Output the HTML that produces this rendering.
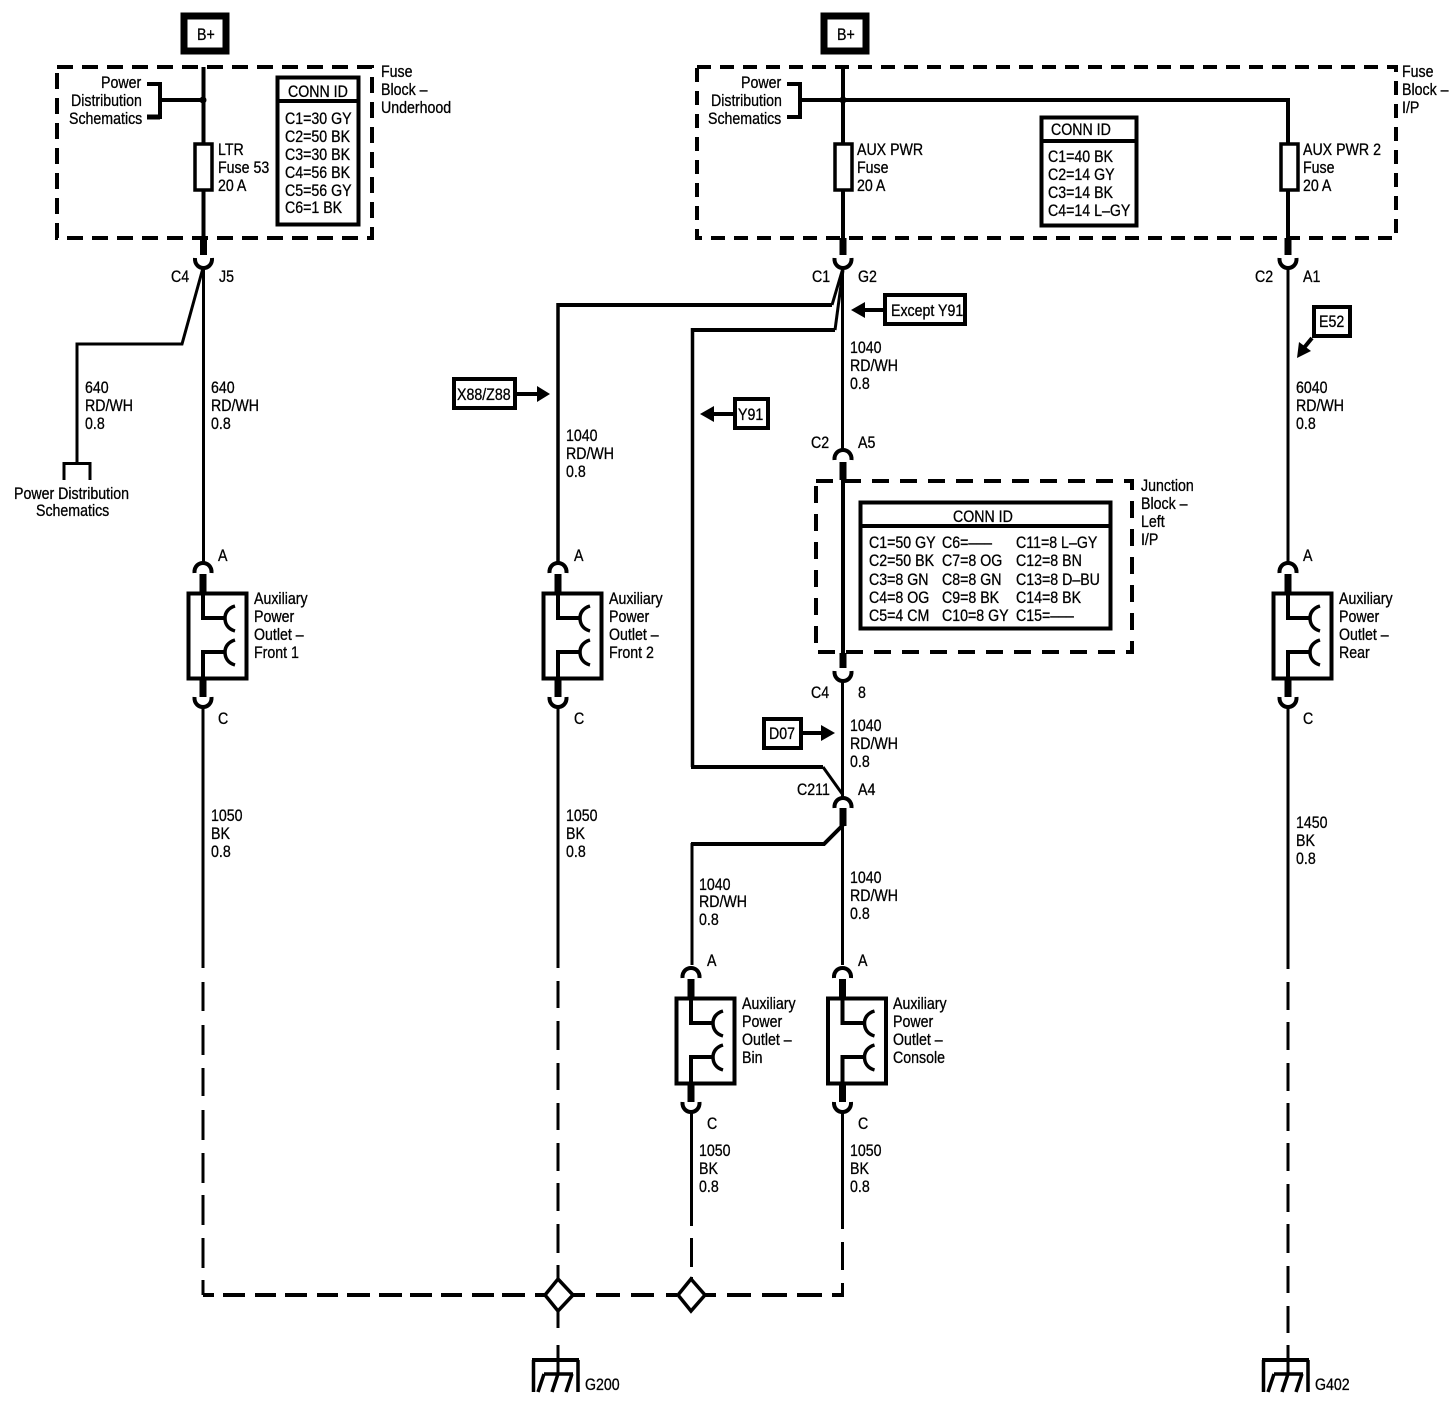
<!DOCTYPE html>
<html><head><meta charset="utf-8"><style>
html,body{margin:0;padding:0;background:#fff;width:1450px;height:1408px;overflow:hidden}
svg{display:block}
text{font-family:"Liberation Sans",sans-serif;font-size:16.5px;fill:#000;stroke:#000;stroke-width:.3;transform-box:fill-box;transform-origin:0 50%;transform:scaleX(.86)}
.w{fill:none;stroke:#000;stroke-width:3}
.m{fill:none;stroke:#000;stroke-width:3.5}
.t{fill:none;stroke:#000;stroke-width:4}
.k{fill:none;stroke:#000;stroke-width:7}
.b{fill:#fff;stroke:#000;stroke-width:4}
</style></head><body>
<svg width="1450" height="1408" viewBox="0 0 1450 1408" xmlns="http://www.w3.org/2000/svg">
<defs>
<g id="up"><path class="t" d="M-8.500,11 C-9,4 -4,1 0,1 C4,1 9,4 8.500,11"/></g>
<g id="dn"><path class="t" d="M-8.500,0 C-9,7 -4,10 0,10 C4,10 9,7 8.500,0"/></g>
<g id="outlet">
<use href="#up" x="203" y="562"/>
<path class="k" d="M203,574V592M203,679V697"/>
<rect class="b" x="188.500" y="593.500" width="58" height="85"/>
<path class="t" d="M203,592V618H226M203,680V652H226"/>
<path class="m" d="M235,606C228,608 225,613 225,618C225,624 228,629 235,631M235,640C228,642 225,647 225,652C225,658 228,663 235,665"/>
<use href="#dn" x="203" y="697"/>
</g>
<g id="gnd">
<path class="w" d="M0,0V29"/>
<path class="t" d="M-26,15H21"/>
<path class="m" d="M-24.500,15V47M20,15V47"/>
<path class="m" d="M-14,29H15M-14,29L-20,47M0,29L-6,47M14,29L8,47"/>
</g>
</defs>

<!-- B+ boxes -->
<rect x="184" y="16" width="42" height="35" fill="#fff" stroke="#000" stroke-width="7"/>
<rect x="824" y="16" width="42" height="35" fill="#fff" stroke="#000" stroke-width="7"/>
<text x="197" y="40">B+</text>
<text x="837" y="40">B+</text>

<!-- Dashed boxes -->
<rect x="57" y="67" width="315" height="171" fill="none" stroke="#000" stroke-width="4" stroke-dasharray="16 9"/>
<rect x="697" y="67" width="699" height="171" fill="none" stroke="#000" stroke-width="4" stroke-dasharray="14 9"/>
<rect x="816" y="481" width="316" height="171" fill="none" stroke="#000" stroke-width="4" stroke-dasharray="17 11"/>

<!-- Top left -->
<path class="t" d="M203.500,67V239M147,84H160V117H147M160,100H203"/>
<path d="M147,117H160" fill="none" stroke="#000" stroke-width="5"/>
<circle cx="203" cy="100" r="3.500"/>
<rect x="195" y="144" width="17" height="46" fill="#fff" stroke="#000" stroke-width="3.500"/>
<path class="k" d="M203.500,238V255"/>
<use href="#dn" x="203.500" y="258"/>
<path class="w" d="M203.500,268V563"/>
<path class="w" d="M203,268L182,344H77V463M64,480V463.500H90V480"/>

<!-- Conn ID left -->
<rect class="b" x="277.500" y="77.500" width="81" height="147"/>
<path class="t" d="M276,101H360"/>

<!-- Top right -->
<path class="t" d="M843,67V239M787,84H800V117H787M800,100H1288V239"/>
<circle cx="843" cy="100" r="3.500"/>
<rect x="835" y="144" width="17" height="46" fill="#fff" stroke="#000" stroke-width="3.500"/>
<rect x="1281" y="144" width="17" height="46" fill="#fff" stroke="#000" stroke-width="3.500"/>
<path class="k" d="M843,238V255M1288,238V255"/>
<use href="#dn" x="843" y="258"/>
<use href="#dn" x="1288" y="258"/>
<rect class="b" x="1041.500" y="117.500" width="95" height="108"/>
<path class="t" d="M1040,141H1138"/>

<!-- Wire 1288 -->
<path class="w" d="M1288,268V563"/>
<path class="w" d="M1288,708V969M1288,982V1010M1288,1022V1050M1288,1063V1091M1288,1103V1131M1288,1143V1171M1288,1184V1212M1288,1224V1253M1288,1266V1293M1288,1306V1333M1288,1346V1360"/>

<!-- Center wire -->
<path class="w" d="M842.500,268V450"/>
<path class="w" d="M843,268L832,305"/>
<path class="t" d="M832,305H558"/>
<path class="m" d="M558,303V562"/>
<path class="w" d="M843,270L835,330"/>
<path class="t" d="M835,330H691"/>
<path class="m" d="M692.500,328V767"/>
<path class="t" d="M691,767H823"/>
<path class="w" d="M823,767L843,795"/>
<path class="w" d="M842.500,682V800"/>
<path class="k" d="M843,808V826"/>
<path class="w" d="M842.500,826V965"/>
<path class="t" d="M843,825L824,844H691"/>
<path class="w" d="M692,843V965"/>
<use href="#up" x="843" y="449"/>
<use href="#dn" x="843" y="671"/>
<use href="#up" x="843" y="797"/>
<path class="k" d="M843,462V480M843,653V668"/>
<path class="t" d="M843,480V653"/>

<!-- Junction conn box -->
<rect class="b" x="860.500" y="502.500" width="250" height="126"/>
<path class="t" d="M859,526H1112"/>

<!-- Outlets -->
<use href="#outlet"/>
<use href="#outlet" x="355"/>
<use href="#outlet" x="1085"/>
<use href="#outlet" x="488" y="405"/>
<use href="#outlet" x="639.500" y="405"/>

<!-- Lower wires -->
<path class="w" d="M203,708V968M203,982V1011M203,1025V1055M203,1068V1096M203,1110V1140M203,1153V1183M203,1195V1225M203,1238V1268M203,1280V1295"/>
<path class="w" d="M558,708V968M558,981V1008M558,1021V1050M558,1063V1090M558,1103V1130M558,1143V1171M558,1183V1211M558,1224V1253M558,1265V1328M558,1345V1360"/>
<path class="w" d="M691.500,1113V1226M691.500,1238V1267M691.500,1277V1282"/>
<path class="w" d="M842.500,1113V1229M842.500,1242V1270M842.500,1283V1295"/>
<path class="t" d="M203,1295H214M223,1295H245M255,1295H276M285,1295H307M317,1295H338M347,1295H370M379,1295H402M410,1295H432M441,1295H462M472,1295H494M502,1295H525M535,1295H546M573,1295H585M596,1295H620M631,1295H654M666,1295H677M705,1295H716M727,1295H751M762,1295H787M797,1295H822M832,1295H844"/>
<polygon points="558,1279 573,1295 558,1311 545,1295" fill="#fff" stroke="#000" stroke-width="3.500"/>
<polygon points="691,1279 705,1295 691,1311 678,1295" fill="#fff" stroke="#000" stroke-width="3.500"/>

<!-- Ground -->
<use href="#gnd" x="558" y="1345"/>
<use href="#gnd" x="1288" y="1345"/>

<!-- Callouts -->
<rect class="b" x="885" y="295" width="80" height="29"/>
<path class="t" d="M885,310H860"/><polygon points="851,310 865,302 865,318"/>
<rect class="b" x="735" y="399" width="33" height="29"/>
<path class="t" d="M735,414H712"/><polygon points="700,414 714,406 714,422"/>
<rect class="b" x="454" y="379" width="61" height="29"/>
<path class="t" d="M517,394H540"/><polygon points="550,394 537,386 537,402"/>
<rect class="b" x="764" y="719" width="37" height="29"/>
<path class="t" d="M803,733H825"/><polygon points="835,733 821,725 821,741"/>
<rect class="b" x="1314" y="307" width="36" height="29"/>
<path class="t" d="M1312,338L1303,349"/><polygon points="1297,358 1299,342 1311,351"/>

<!-- Text: top left -->
<text x="101" y="88">Power</text><text x="71" y="106">Distribution</text><text x="69" y="124">Schematics</text>
<text x="381" y="77">Fuse</text><text x="381" y="95">Block –</text><text x="381" y="113">Underhood</text>
<text x="218" y="155">LTR</text><text x="218" y="173">Fuse 53</text><text x="218" y="191">20 A</text>
<text x="288" y="97">CONN ID</text>
<text x="285" y="124">C1=30 GY</text><text x="285" y="142">C2=50 BK</text><text x="285" y="160">C3=30 BK</text><text x="285" y="178">C4=56 BK</text><text x="285" y="196">C5=56 GY</text><text x="285" y="213">C6=1 BK</text>
<text x="171" y="282">C4</text><text x="219" y="282">J5</text>
<text x="85" y="393">640</text><text x="85" y="411">RD/WH</text><text x="85" y="429">0.8</text>
<text x="211" y="393">640</text><text x="211" y="411">RD/WH</text><text x="211" y="429">0.8</text>
<text x="14" y="499">Power Distribution</text><text x="36" y="516">Schematics</text>
<text x="218" y="561">A</text><text x="218" y="724">C</text>
<text x="254" y="604">Auxiliary</text><text x="254" y="622">Power</text><text x="254" y="640">Outlet –</text><text x="254" y="658">Front 1</text>
<text x="211" y="821">1050</text><text x="211" y="839">BK</text><text x="211" y="857">0.8</text>
<text x="585" y="1390">G200</text>

<!-- Front 2 -->
<text x="457" y="400">X88/Z88</text>
<text x="566" y="441">1040</text><text x="566" y="459">RD/WH</text><text x="566" y="477">0.8</text>
<text x="574" y="561">A</text><text x="574" y="724">C</text>
<text x="609" y="604">Auxiliary</text><text x="609" y="622">Power</text><text x="609" y="640">Outlet –</text><text x="609" y="658">Front 2</text>
<text x="566" y="821">1050</text><text x="566" y="839">BK</text><text x="566" y="857">0.8</text>

<!-- Top right text -->
<text x="741" y="88">Power</text><text x="711" y="106">Distribution</text><text x="708" y="124">Schematics</text>
<text x="857" y="155">AUX PWR</text><text x="857" y="173">Fuse</text><text x="857" y="191">20 A</text>
<text x="1051" y="135">CONN ID</text>
<text x="1048" y="162">C1=40 BK</text><text x="1048" y="180">C2=14 GY</text><text x="1048" y="198">C3=14 BK</text><text x="1048" y="216">C4=14 L–GY</text>
<text x="1303" y="155">AUX PWR 2</text><text x="1303" y="173">Fuse</text><text x="1303" y="191">20 A</text>
<text x="1402" y="77">Fuse</text><text x="1402" y="95">Block –</text><text x="1402" y="113">I/P</text>
<text x="812" y="282">C1</text><text x="858" y="282">G2</text>
<text x="1255" y="282">C2</text><text x="1303" y="282">A1</text>
<text x="891" y="316">Except Y91</text>
<text x="738" y="420">Y91</text>
<text x="1319" y="327">E52</text>

<!-- Center text -->
<text x="850" y="353">1040</text><text x="850" y="371">RD/WH</text><text x="850" y="389">0.8</text>
<text x="811" y="448">C2</text><text x="858" y="448">A5</text>
<text x="1141" y="491">Junction</text><text x="1141" y="509">Block –</text><text x="1141" y="527">Left</text><text x="1141" y="545">I/P</text>
<text x="953" y="522">CONN ID</text>
<text x="869" y="548">C1=50 GY</text><text x="942" y="548">C6=–––</text><text x="1016" y="548">C11=8 L–GY</text>
<text x="869" y="566">C2=50 BK</text><text x="942" y="566">C7=8 OG</text><text x="1016" y="566">C12=8 BN</text>
<text x="869" y="585">C3=8 GN</text><text x="942" y="585">C8=8 GN</text><text x="1016" y="585">C13=8 D–BU</text>
<text x="869" y="603">C4=8 OG</text><text x="942" y="603">C9=8 BK</text><text x="1016" y="603">C14=8 BK</text>
<text x="869" y="621">C5=4 CM</text><text x="942" y="621">C10=8 GY</text><text x="1016" y="621">C15=–––</text>
<text x="811" y="698">C4</text><text x="858" y="698">8</text>
<text x="769" y="739">D07</text>
<text x="850" y="731">1040</text><text x="850" y="749">RD/WH</text><text x="850" y="767">0.8</text>
<text x="797" y="795">C211</text><text x="858" y="795">A4</text>
<text x="699" y="890">1040</text><text x="699" y="907">RD/WH</text><text x="699" y="925">0.8</text>
<text x="850" y="883">1040</text><text x="850" y="901">RD/WH</text><text x="850" y="919">0.8</text>
<text x="707" y="966">A</text><text x="858" y="966">A</text>
<text x="742" y="1009">Auxiliary</text><text x="742" y="1027">Power</text><text x="742" y="1045">Outlet –</text><text x="742" y="1063">Bin</text>
<text x="893" y="1009">Auxiliary</text><text x="893" y="1027">Power</text><text x="893" y="1045">Outlet –</text><text x="893" y="1063">Console</text>
<text x="707" y="1129">C</text><text x="858" y="1129">C</text>
<text x="699" y="1156">1050</text><text x="699" y="1174">BK</text><text x="699" y="1192">0.8</text>
<text x="850" y="1156">1050</text><text x="850" y="1174">BK</text><text x="850" y="1192">0.8</text>

<!-- Right text -->
<text x="1296" y="393">6040</text><text x="1296" y="411">RD/WH</text><text x="1296" y="429">0.8</text>
<text x="1303" y="561">A</text><text x="1303" y="724">C</text>
<text x="1339" y="604">Auxiliary</text><text x="1339" y="622">Power</text><text x="1339" y="640">Outlet –</text><text x="1339" y="658">Rear</text>
<text x="1296" y="828">1450</text><text x="1296" y="846">BK</text><text x="1296" y="864">0.8</text>
<text x="1315" y="1390">G402</text>
</svg>
</body></html>
